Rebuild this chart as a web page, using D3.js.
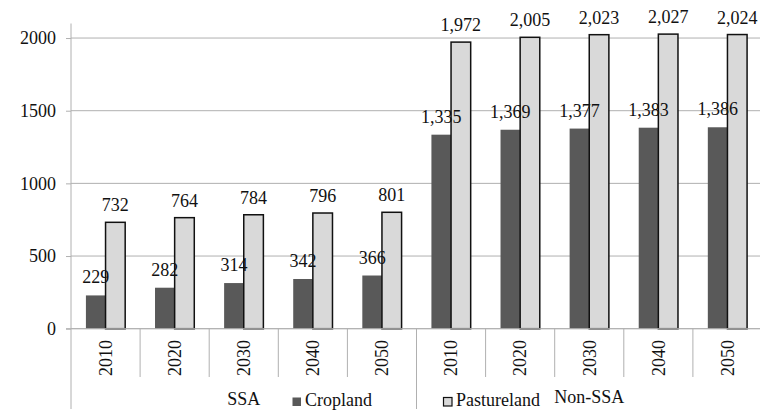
<!DOCTYPE html>
<html>
<head>
<meta charset="utf-8">
<script src="https://cdn.jsdelivr.net/npm/d3@7"></script>
<style>
  html, body { margin: 0; padding: 0; background: #fff; }
  svg { display: block; font-family: "Liberation Serif", "Times New Roman", serif; }
</style>
</head>
<body>
<svg id="chart" width="760" height="412"></svg>
<script>
// Land use (thousand km²) by region and year
const regions = ["SSA", "Non-SSA"];
const years = ["2010", "2020", "2030", "2040", "2050"];
const cropSSA = [229, 282, 314, 342, 366];
const pastureSSA = [732, 764, 784, 796, 801];
const cropNonSSA = [1335, 1369, 1377, 1383, 1386];
const pastureNonSSA = [1972, 2005, 2023, 2027, 2024];
const yTicks = [0, 500, 1000, 1500, 2000];
const seriesNames = ["Cropland", "Pastureland"];

const cropValues = [cropSSA, cropNonSSA];
const pastureValues = [pastureSSA, pastureNonSSA];

// Flat table of category rows built from the arrays above
const rows = [];
regions.forEach((r, ri) => {
  years.forEach((y, yi) => {
    rows.push({ key: r + "-" + y, region: r, year: y,
                crop: cropValues[ri][yi], pasture: pastureValues[ri][yi] });
  });
});

const svg = d3.select("#chart");
const margin = { left: 71, right: 762, top: 23.5, bottom: 328.7 };

const x = d3.scaleBand()
  .domain(rows.map(d => d.key))
  .range([margin.left, margin.right])
  .paddingInner(0).paddingOuter(0);

const y = d3.scaleLinear()
  .domain([0, 2100])
  .range([margin.bottom, margin.top]);

const inner = d3.scaleBand()
  .domain(seriesNames)
  .range([0, x.bandwidth()])
  .paddingInner(0)
  .paddingOuter(0.76);

const fmt = d3.format(",");
const textColor = "#111";
const gridColor = "#b0b0b0";

// Horizontal gridlines and y axis
const yAxis = d3.axisLeft(y).tickValues(yTicks).tickSize(5).tickFormat(d3.format("d"));
const gy = svg.append("g").attr("transform", `translate(${margin.left},0)`).call(yAxis);
gy.select(".domain").remove();
gy.selectAll(".tick line").attr("stroke", gridColor);
gy.selectAll(".tick text")
  .attr("x", -15)
  .attr("font-size", 18)
  .attr("fill", textColor)
  .attr("font-family", "Liberation Serif, Times New Roman, serif");

svg.append("g").selectAll("line.grid")
  .data(yTicks)
  .join("line")
  .attr("x1", margin.left).attr("x2", margin.right)
  .attr("y1", d => y(d)).attr("y2", d => y(d))
  .attr("stroke", gridColor).attr("stroke-width", 1);

// Vertical axis line
svg.append("line")
  .attr("x1", margin.left).attr("x2", margin.left)
  .attr("y1", y(2100)).attr("y2", y(0))
  .attr("stroke", gridColor);

// Bars
const cat = svg.append("g").selectAll("g.cat")
  .data(rows)
  .join("g")
  .attr("transform", d => `translate(${x(d.key)},0)`);

cat.append("rect")
  .attr("x", inner("Cropland"))
  .attr("width", inner.bandwidth())
  .attr("y", d => y(d.crop))
  .attr("height", d => y(0) - y(d.crop))
  .attr("fill", "#595959");

cat.append("rect")
  .attr("x", inner("Pastureland"))
  .attr("width", inner.bandwidth())
  .attr("y", d => y(d.pasture))
  .attr("height", d => y(0) - y(d.pasture))
  .attr("fill", "#d9d9d9")
  .attr("stroke", "#111")
  .attr("stroke-width", 1.5);

// Value labels
cat.append("text")
  .attr("x", inner("Cropland") + inner.bandwidth() / 2)
  .attr("y", d => y(d.crop) - 12)
  .attr("text-anchor", "middle")
  .attr("font-size", 18)
  .attr("fill", textColor)
  .text(d => fmt(d.crop));

cat.append("text")
  .attr("x", inner("Pastureland") + inner.bandwidth() / 2)
  .attr("y", d => y(d.pasture) - 11)
  .attr("text-anchor", "middle")
  .attr("font-size", 18)
  .attr("fill", textColor)
  .text(d => fmt(d.pasture));

// Zero baseline
svg.append("line")
  .attr("x1", margin.left - 5).attr("x2", margin.right)
  .attr("y1", y(0)).attr("y2", y(0))
  .attr("stroke", gridColor);

// Category separators below the axis
const edges = rows.map(d => x(d.key)).concat([x(rows[rows.length - 1].key) + x.bandwidth()]);
svg.append("g").selectAll("line")
  .data(edges)
  .join("line")
  .attr("x1", d => d).attr("x2", d => d)
  .attr("y1", y(0))
  .attr("y2", (d, i) => (i % years.length === 0) ? 409 : 377)
  .attr("stroke", gridColor);

// Rotated year labels
cat.append("text")
  .attr("transform", `translate(${x.bandwidth() / 2},358) rotate(-90)`)
  .attr("text-anchor", "middle")
  .attr("dy", "0.35em")
  .attr("font-size", 18)
  .attr("fill", textColor)
  .text(d => d.year);

// Region labels
regions.forEach((r, ri) => {
  const first = x(r + "-" + years[0]);
  const last = x(r + "-" + years[years.length - 1]) + x.bandwidth();
  svg.append("text")
    .attr("x", (first + last) / 2)
    .attr("y", ri === 0 ? 405 : 403)
    .attr("text-anchor", "middle")
    .attr("font-size", 18)
    .attr("fill", textColor)
    .text(r);
});

// Legend
const legend = [
  { name: seriesNames[0], x: 292, fill: "#595959", stroke: "none" },
  { name: seriesNames[1], x: 443, fill: "#d9d9d9", stroke: "#111" }
];
const lg = svg.append("g").selectAll("g").data(legend).join("g");
lg.append("rect")
  .attr("x", d => d.x + 0.5).attr("y", 397.5)
  .attr("width", 8.5).attr("height", 8.5)
  .attr("fill", d => d.fill)
  .attr("stroke", d => d.stroke)
  .attr("stroke-width", 1.2);
lg.append("text")
  .attr("x", d => d.x + 13)
  .attr("y", 406)
  .attr("font-size", 18)
  .attr("fill", textColor)
  .text(d => d.name);
</script>
</body>
</html>
